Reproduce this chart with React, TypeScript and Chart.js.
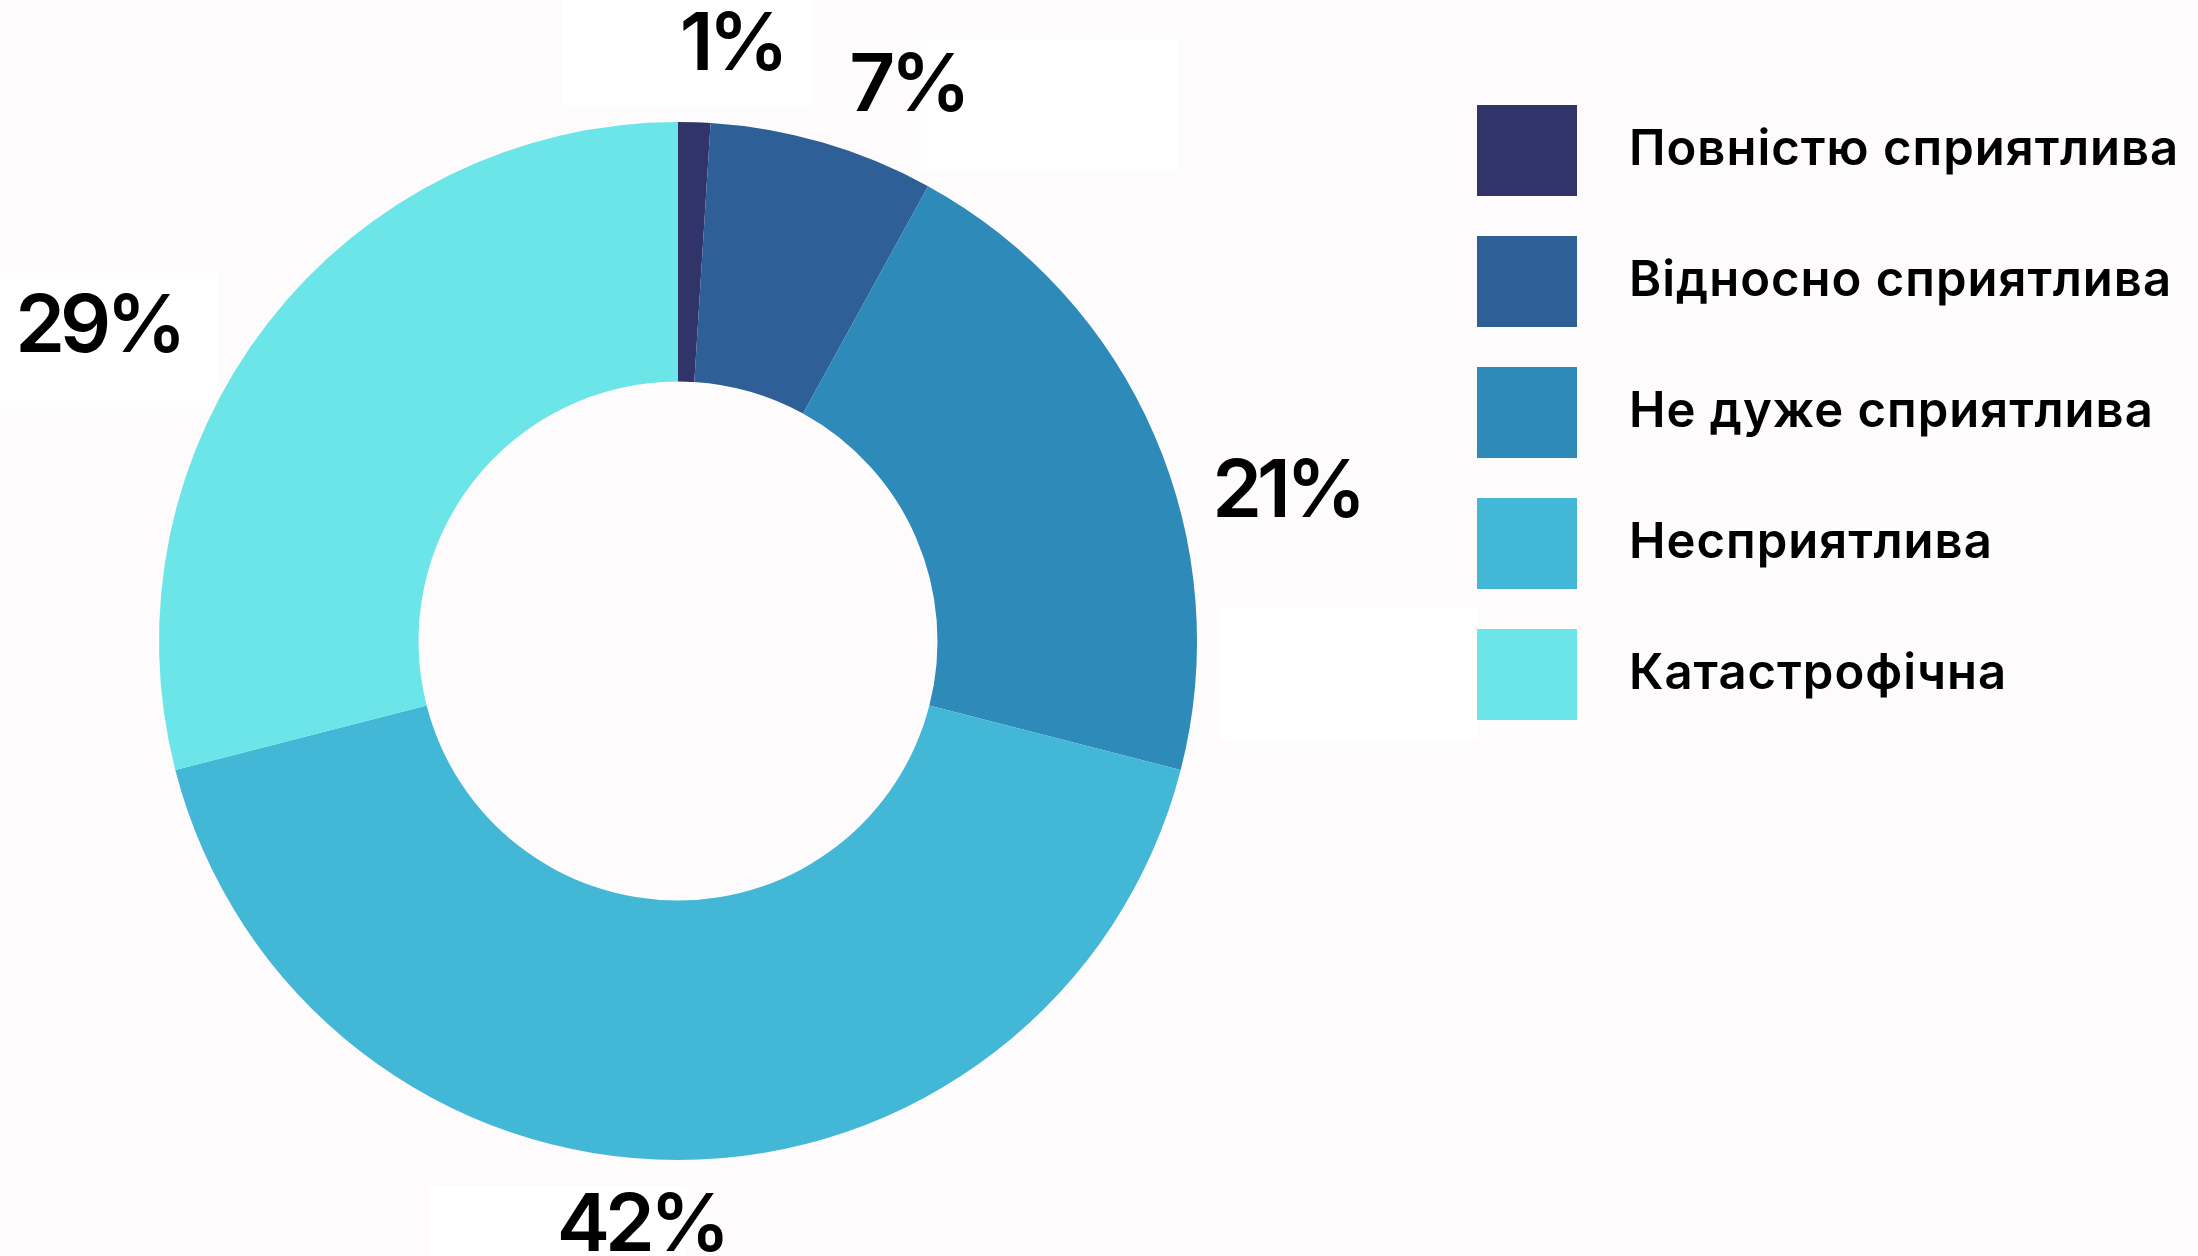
import React, { useEffect, useRef } from "react";
import { Chart, registerables } from "chart.js";

Chart.register(...registerables);

// ---- data ----
const categories = [
  "Повністю сприятлива",
  "Відносно сприятлива",
  "Не дуже сприятлива",
  "Несприятлива",
  "Катастрофічна",
];
const values = [1, 7, 21, 42, 29];
const sliceColors = ["#303468", "#2e5f96", "#2e8ab8", "#43b7d6", "#6ce5e8"];

const BG = "#fdfbfc";
const FONT = "Inter, 'Open Sans', sans-serif";
const W = 2198;
const H = 1256;

const bgPlugin = {
  id: "bgFill",
  beforeDraw(chart: any) {
    const { ctx, width, height } = chart;
    ctx.save();
    ctx.fillStyle = BG;
    ctx.fillRect(0, 0, width, height);
    ctx.restore();
  },
};

function labelPos(chart: any, i: number, opts: any) {
  const arc = chart.getDatasetMeta(0).data[i];
  const p = arc.getProps(["x", "y", "startAngle", "endAngle", "outerRadius"], true);
  const mid = (p.startAngle + p.endAngle) / 2;
  const r = p.outerRadius * opts.radiusFactor;
  const [dx, dy] = opts.offsets[i];
  return { x: p.x + Math.cos(mid) * r + dx, y: p.y + Math.sin(mid) * r + dy };
}

const sliceLabelPlugin = {
  id: "sliceLabels",
  beforeDatasetsDraw(chart: any, _args: any, opts: any) {
    const { ctx } = chart;
    ctx.save();
    ctx.fillStyle = opts.boxColor;
    chart.data.datasets[0].data.forEach((_v: number, i: number) => {
      const c = labelPos(chart, i, opts);
      const [bx, by, bw, bh] = opts.boxes[i];
      ctx.fillRect(c.x + bx, c.y + by, bw, bh);
    });
    ctx.restore();
  },
  afterDatasetsDraw(chart: any, _args: any, opts: any) {
    const { ctx } = chart;
    ctx.save();
    ctx.fillStyle = opts.color;
    ctx.font = opts.font;
    (ctx as any).letterSpacing = opts.letterSpacing;
    ctx.textAlign = "center";
    ctx.textBaseline = "middle";
    chart.data.datasets[0].data.forEach((v: number, i: number) => {
      const c = labelPos(chart, i, opts);
      ctx.fillText(v + "%", c.x, c.y);
    });
    ctx.restore();
  },
};

const sideLegendPlugin = {
  id: "sideLegend",
  afterDraw(chart: any, _args: any, opts: any) {
    const { ctx } = chart;
    const ds = chart.data.datasets[0];
    ctx.save();
    ctx.font = opts.font;
    (ctx as any).letterSpacing = opts.letterSpacing;
    ctx.textBaseline = "middle";
    ctx.textAlign = "left";
    chart.data.labels.forEach((label: string, i: number) => {
      const top = opts.y + i * opts.step;
      ctx.fillStyle = ds.backgroundColor[i];
      ctx.fillRect(opts.x, top, opts.boxWidth, opts.boxHeight);
      ctx.fillStyle = opts.color;
      ctx.fillText(label, opts.textX, top + opts.boxHeight / 2);
    });
    ctx.restore();
  },
};

export default function App() {
  const canvasRef = useRef<HTMLCanvasElement | null>(null);

  useEffect(() => {
    document.body.style.margin = "0";
    document.body.style.background = BG;
    const canvas = canvasRef.current;
    if (!canvas) return;
    const chart = new Chart(canvas, {
      type: "doughnut",
      data: {
        labels: categories,
        datasets: [
          {
            data: values,
            backgroundColor: sliceColors,
            borderWidth: 0,
          },
        ],
      },
      options: {
        responsive: false,
        animation: false,
        cutout: "50%",
        layout: { padding: { left: 159, right: W - 1197, top: 122, bottom: H - 1160 } },
        plugins: {
          legend: { display: false },
          tooltip: { enabled: false },
          sliceLabels: {
            radiusFactor: 1.15,
            offsets: [
              [35, 2],
              [63, 19],
              [61, 89],
              [-37, -11],
              [-108, 53],
            ],
            boxes: [
              [-169, -75, 250, 134],
              [13, -48, 257, 132],
              [-67, 114, 259, 133],
              [-212, -41, 258, 134],
              [-139, -55, 258, 134],
            ],
            boxColor: "#ffffff",
            color: "#000000",
            font: `600 80px ${FONT}`,
            letterSpacing: "-5px",
          },
          sideLegend: {
            x: 1477,
            y: 105,
            step: 131,
            boxWidth: 100,
            boxHeight: 91,
            textX: 1629,
            color: "#000000",
            font: `600 49px ${FONT}`,
            letterSpacing: "1px",
          },
        } as any,
      },
      plugins: [bgPlugin, sliceLabelPlugin, sideLegendPlugin],
    });
    return () => chart.destroy();
  }, []);

  return <canvas ref={canvasRef} width={W} height={H} style={{ display: "block" }} />;
}
